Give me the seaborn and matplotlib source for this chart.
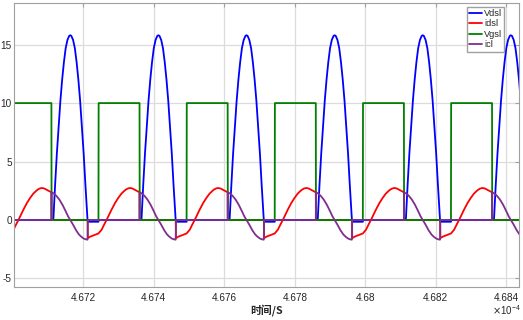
import numpy as np
import pandas as pd
import matplotlib
matplotlib.use('Agg')
import matplotlib.pyplot as plt
import seaborn as sns
from matplotlib.ticker import FuncFormatter

# ---- dados (tempo em unidades de 1e-4 s) ----
# inícios de cada ciclo = borda de descida de Vgs
inicio_ciclos = [4.6686, 4.6711, 4.6736, 4.6761, 4.6786, 4.6811, 4.6836]

# forma de um ciclo (offset em ns a partir da descida de Vgs)
vds_t = [0, 5, 10, 15, 20, 25, 30, 35, 40, 45, 50, 53, 56, 61, 66, 71, 76, 81, 86, 91, 96, 102, 103, 133, 134, 249.5]
vds_v = [0, 0, 3.0, 5.7, 8.0, 10.2, 12.0, 13.5, 14.7, 15.4, 15.75, 15.8, 15.75, 15.4, 14.7, 13.5, 12.0, 10.2, 8.0, 5.7, 3.0, 0, -0.15, -0.15, 0, 0]

ids_t = [0, 102, 103, 110, 120, 133, 142, 149, 156, 163, 170, 180, 189, 198, 208, 215, 222, 229, 236, 243, 249.5]
ids_v = [0, 0, -1.55, -1.42, -1.3, -1.15, -0.83, -0.4, 0, 0.45, 0.88, 1.45, 1.88, 2.25, 2.54, 2.68, 2.74, 2.7, 2.59, 2.47, 2.37]

vgs_t = [0, 133, 133.5, 249.5]
vgs_v = [0, 0, 10, 10]

icl_t = [0, 7, 14, 22, 31, 40, 47, 53, 60, 70, 78, 85, 92, 99, 102, 103, 249.5]
icl_v = [2.37, 2.25, 2.05, 1.75, 1.3, 0.75, 0.3, 0, -0.35, -0.9, -1.25, -1.45, -1.6, -1.67, -1.68, 0, 0]

series = [
    ('Vdsl', vds_t, vds_v, '#0000ff'),
    ('idsl', ids_t, ids_v, '#ff0000'),
    ('Vgsl', vgs_t, vgs_v, '#008000'),
    ('icl', icl_t, icl_v, '#7e2f8e'),
]

x_ticks = [4.672, 4.674, 4.676, 4.678, 4.680, 4.682, 4.684]
y_ticks = [-5, 0, 5, 10, 15]


def monta_serie(offs, vals):
    t, v = [], []
    for t0 in inicio_ciclos:
        for o, y in zip(offs, vals):
            t.append(t0 + o * 1e-5)
            v.append(y)
    return pd.DataFrame({'t': t, 'v': v})


sns.set_style('white')
plt.rcParams['font.family'] = ['Liberation Sans', 'Noto Sans CJK SC', 'DejaVu Sans']
plt.rcParams['axes.unicode_minus'] = False

fig = plt.figure(figsize=(5.23, 3.2), dpi=100)
ax = fig.add_axes([14 / 523, 1 - 287 / 320, 505 / 523, 284 / 320])

for nome, offs, vals, cor in series:
    d = monta_serie(offs, vals)
    sns.lineplot(data=d, x='t', y='v', ax=ax, color=cor, linewidth=1.3,
                 estimator=None, sort=False, label=nome)

ax.set_xlim(4.670034, 4.68436)
ax.set_ylim(-5.73, 18.56)
ax.set_xticks(x_ticks)
ax.set_yticks(y_ticks)
ax.xaxis.set_major_formatter(FuncFormatter(lambda x, p: f'{x:g}'))
ax.grid(True, color='#dcdcdc', linewidth=0.9)
ax.set_axisbelow(True)

for s in ax.spines.values():
    s.set_color('#a0a0a0')
    s.set_linewidth(0.8)
ax.tick_params(direction='in', length=3, top=True, right=True, color='#a0a0a0',
               labelcolor='#262626', labelsize=7.2)
ax.tick_params(axis='x', pad=4)
ax.tick_params(axis='y', pad=1.5)

ax.set_ylabel('')
ax.set_xlabel('时间/S', fontsize=7.8, fontweight='bold',
              family=['Noto Sans CJK SC', 'DejaVu Sans'], labelpad=1)
fig.text(0.996, 0.010, r'$\times\mathregular{10^{-4}}$', ha='right', va='bottom',
         fontsize=7, color='#262626')

ax.legend(loc='upper right', bbox_to_anchor=(0.971, 0.987), borderaxespad=0,
          fontsize=6.7, handlelength=1.4, handletextpad=0.2, labelspacing=0.15,
          borderpad=0.25, fancybox=False, edgecolor='#a0a0a0', framealpha=1)

fig.savefig('out.png', dpi=100)
